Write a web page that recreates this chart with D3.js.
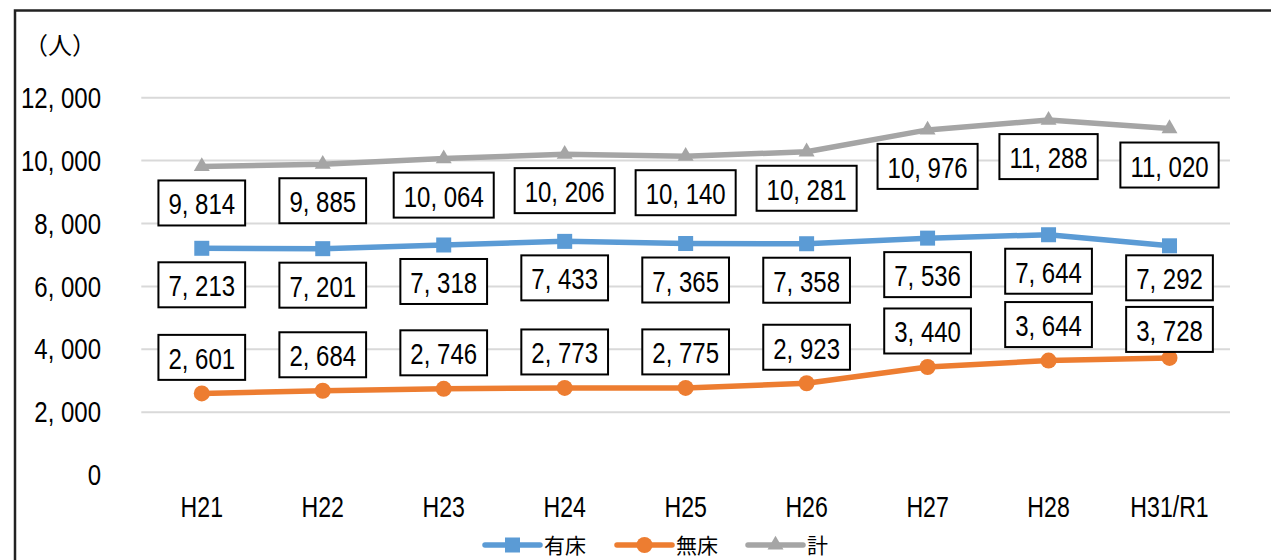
<!DOCTYPE html>
<html>
<head>
<meta charset="utf-8">
<script src="https://cdn.jsdelivr.net/npm/d3@7"></script>
<style>
  html, body { margin: 0; padding: 0; background: #fff; }
  svg { display: block; }
  .num { font-family: "Liberation Sans", Arial, sans-serif; }
  .jp { font-family: "Noto Sans CJK JP", sans-serif; }
</style>
</head>
<body>
<svg id="chart" width="1271" height="560"></svg>
<script>
// Fiscal years
const categories = ["H21", "H22", "H23", "H24", "H25", "H26", "H27", "H28", "H31/R1"];
// Counts (persons) per series
const yushou = [7213, 7201, 7318, 7433, 7365, 7358, 7536, 7644, 7292];
const mushou = [2601, 2684, 2746, 2773, 2775, 2923, 3440, 3644, 3728];
const total  = [9814, 9885, 10064, 10206, 10140, 10281, 10976, 11288, 11020];
const yTicks = [0, 2000, 4000, 6000, 8000, 10000, 12000];
const unitLabel = "（人）";

const series = [
  { name: "有床", values: yushou, color: "#5B9BD5", marker: "square",   labelPos: "below" },
  { name: "無床", values: mushou, color: "#ED7D31", marker: "circle",   labelPos: "above" },
  { name: "計",   values: total,  color: "#A5A5A5", marker: "triangle", labelPos: "below" }
];

// Condensed rendering of the numeric font
const NUM_SIZE = 30;
const NUM_SCALE = 0.80;
const XLAB_SCALE = 0.77;

const svg = d3.select("#chart");

// Outer frame (left and top edges visible)
svg.append("rect")
  .attr("x", 15).attr("y", 10.5)
  .attr("width", 1400).attr("height", 700)
  .attr("fill", "none")
  .attr("stroke", "#222").attr("stroke-width", 2.5);

const x = d3.scaleBand().domain(categories).range([141.3, 1230]);
const y = d3.scaleLinear().domain([0, 12000]).range([475.2, 97.7]);

// Gridlines (no line at zero)
svg.append("g").selectAll("line")
  .data(yTicks.filter(d => d > 0))
  .join("line")
  .attr("x1", 141.3).attr("x2", 1230)
  .attr("y1", d => y(d)).attr("y2", d => y(d))
  .attr("stroke", "#D9D9D9").attr("stroke-width", 2);

// Y-axis tick labels
const fmt = v => d3.format(",")(v).replace(/,/g, ", ");
const yAxis = d3.axisLeft(y).tickValues(yTicks).tickSize(0).tickPadding(0).tickFormat(fmt);
const yg = svg.append("g").attr("transform", "translate(101,0)").call(yAxis);
yg.select(".domain").remove();
yg.selectAll("text")
  .attr("class", "num")
  .attr("font-size", NUM_SIZE)
  .attr("fill", "#000")
  .attr("dy", "0.32em")
  .attr("transform", `scale(${NUM_SCALE},1)`);

// X-axis category labels
const xAxis = d3.axisBottom(x).tickSize(0).tickPadding(0);
const xg = svg.append("g").attr("transform", "translate(0,517)").call(xAxis);
xg.select(".domain").remove();
xg.selectAll("text")
  .attr("class", "num")
  .attr("font-size", NUM_SIZE)
  .attr("fill", "#000")
  .attr("dy", 0)
  .attr("transform", `scale(${XLAB_SCALE},1)`);

// Unit label
svg.append("text")
  .attr("class", "jp")
  .attr("x", 24).attr("y", 54)
  .attr("font-size", 24)
  .attr("fill", "#000")
  .text(unitLabel);

const cx = d => x(d) + x.bandwidth() / 2;

function drawMarker(g, type, color) {
  if (type === "square") {
    g.append("rect").attr("x", -7.5).attr("y", -7.5).attr("width", 15).attr("height", 15).attr("fill", color);
  } else if (type === "circle") {
    g.append("circle").attr("r", 8).attr("fill", color);
  } else {
    g.append("path").attr("d", d3.symbol().type(d3.symbolTriangle).size(110)()).attr("fill", color);
  }
}

const line = d3.line().x((d, i) => cx(categories[i])).y(d => y(d));

// Lines and markers
series.forEach(s => {
  svg.append("path")
    .datum(s.values)
    .attr("d", line)
    .attr("fill", "none")
    .attr("stroke", s.color)
    .attr("stroke-width", 5.5)
    .attr("stroke-linejoin", "round")
    .attr("stroke-linecap", "round");
  s.values.forEach((v, i) => {
    const g = svg.append("g").attr("transform", `translate(${cx(categories[i])},${y(v)})`);
    drawMarker(g, s.marker, s.color);
  });
});

// Boxed data labels; the last column's two lower labels are nudged apart so they don't collide
const nudge = (seriesIdx, i) => (i === categories.length - 1 ? (seriesIdx === 0 ? -4.5 : seriesIdx === 1 ? 7.5 : 0) : 0);
series.forEach((s, si) => {
  s.values.forEach((v, i) => {
    const px = cx(categories[i]);
    const py = y(v) + (s.labelPos === "below" ? 36.5 : -36) + nudge(si, i);
    const g = svg.append("g").attr("transform", `translate(${px},${py})`);
    const box = g.append("rect").attr("fill", "#fff").attr("stroke", "#000").attr("stroke-width", 2);
    const t = g.append("text")
      .attr("class", "num")
      .attr("font-size", NUM_SIZE)
      .attr("text-anchor", "middle")
      .attr("y", 11.5)
      .attr("fill", "#000")
      .attr("transform", `scale(${NUM_SCALE},1)`)
      .text(fmt(v));
    const w = t.node().getComputedTextLength() * NUM_SCALE + 20;
    box.attr("x", -w / 2).attr("y", -22.5).attr("width", w).attr("height", 45);
  });
});

// Legend
const legendItems = [
  { s: series[0], x0: 485 },
  { s: series[1], x0: 617 },
  { s: series[2], x0: 748 }
];
const ly = 545;
legendItems.forEach(({ s, x0 }) => {
  svg.append("line")
    .attr("x1", x0).attr("x2", x0 + 55)
    .attr("y1", ly).attr("y2", ly)
    .attr("stroke", s.color).attr("stroke-width", 5.5).attr("stroke-linecap", "round");
  const g = svg.append("g").attr("transform", `translate(${x0 + 27.5},${ly})`);
  drawMarker(g, s.marker, s.color);
  svg.append("text")
    .attr("class", "jp")
    .attr("x", x0 + 59).attr("y", ly + 8)
    .attr("font-size", 21)
    .attr("fill", "#000")
    .text(s.name);
});
</script>
</body>
</html>
